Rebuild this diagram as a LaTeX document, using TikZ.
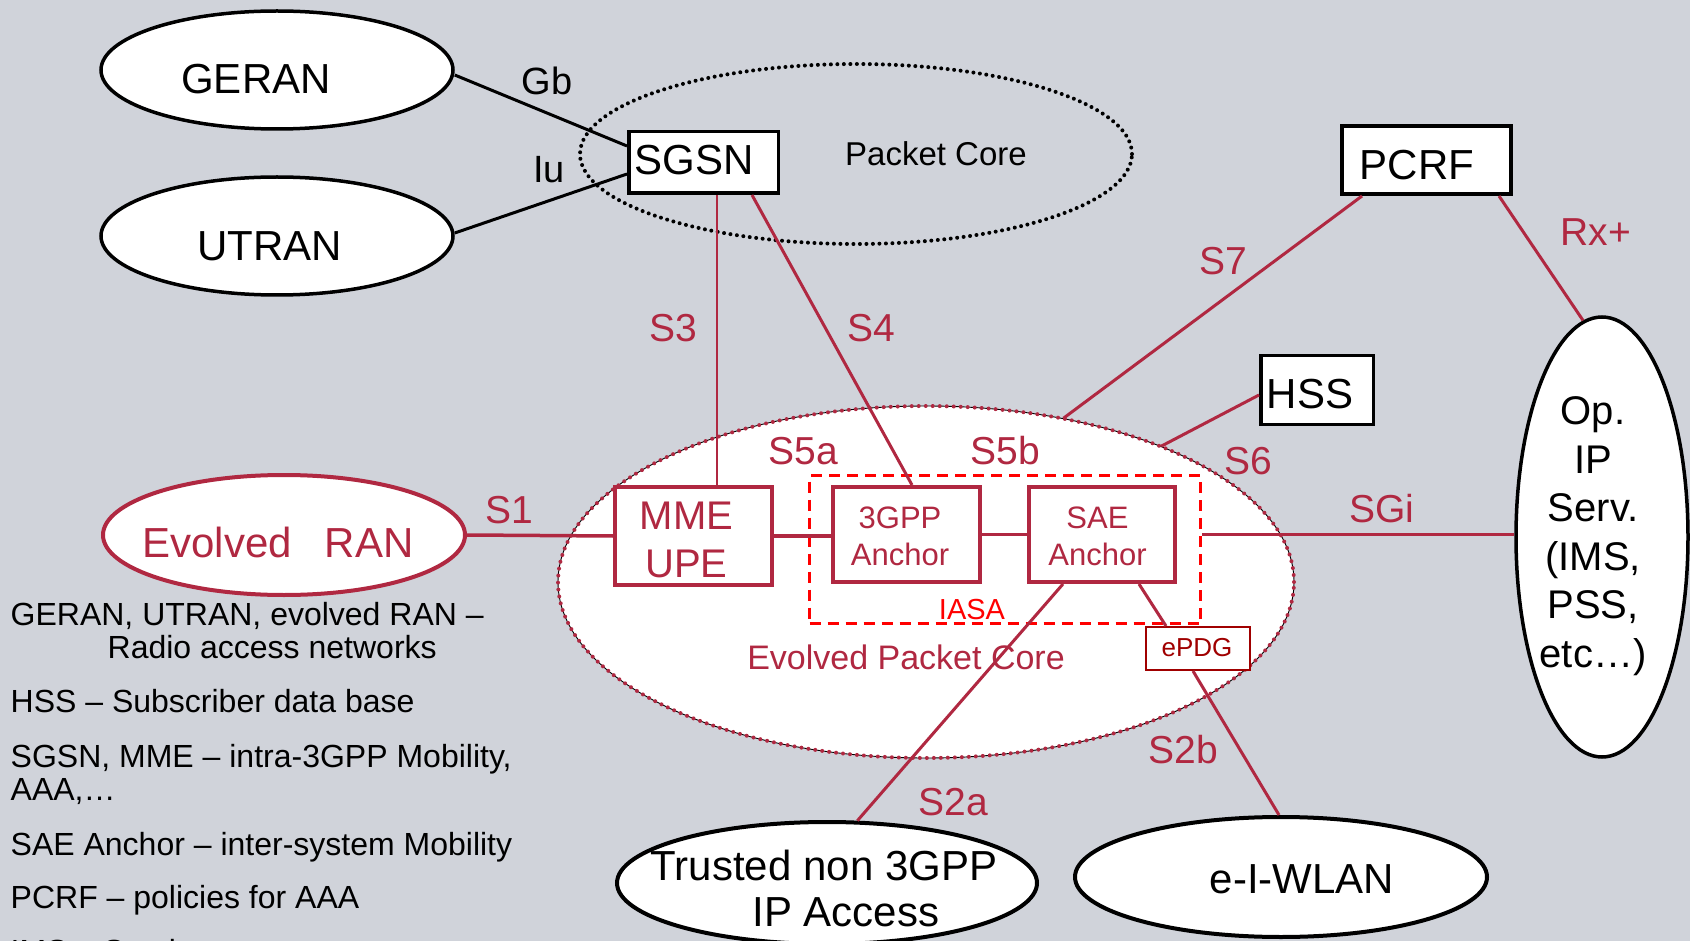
\documentclass[tikz,border=0pt]{standalone}
\usepackage{fontspec}
\setmainfont{Liberation Sans}
\usetikzlibrary{shapes.geometric,calc}
\definecolor{bg}{RGB}{208,211,218}
\definecolor{crim}{RGB}{176,40,65}
\definecolor{dred}{RGB}{160,0,0}
\definecolor{pured}{RGB}{255,0,0}
\begin{document}
\begin{tikzpicture}[x=1pt, y=-1pt,
  cloud/.style={ellipse, draw=black, fill=white, line width=3.5pt, inner sep=0pt},
  box/.style={rectangle, draw=black, fill=white, line width=3.5pt, inner sep=0pt},
  rbox/.style={box, draw=crim, line width=4pt},
  blk/.style={draw=black, line width=3pt},
  rline/.style={draw=crim, line width=3pt},
  txt/.style={inner sep=0pt, font=\fontsize{42}{48}\selectfont},
  lbl/.style={inner sep=0pt, text=crim, font=\fontsize{39}{44}\selectfont},
  ifc/.style={inner sep=0pt, font=\fontsize{38}{44}\selectfont},
  leg/.style={anchor=base west, inner sep=0pt, font=\fontsize{32}{38}\selectfont},
]
% canvas
\fill[bg] (0,0) rectangle (1690,941);
\useasboundingbox (0,0) rectangle (1690,941);
\clip (0,0) rectangle (1690,941);

% packet core region (dotted outline)
\node[ellipse, draw=black, line width=4pt, dash pattern=on 0pt off 6.5pt, line cap=round,
      minimum width=552pt, minimum height=180pt, inner sep=0pt] (pc) at (856,154) {};

% evolved packet core region
\node[ellipse, draw=black, fill=white, line width=0.9pt, inner sep=0pt,
      minimum width=736pt, minimum height=352pt,
      postaction={draw=crim, line width=4pt, dash pattern=on 0pt off 7pt, line cap=round}]
      (epc) at (926,582) {};

% access networks and service clouds
\node[cloud, minimum width=352pt, minimum height=118pt] (geran) at (277,70) {};
\node[cloud, minimum width=352pt, minimum height=118pt] (utran) at (277,236) {};
\node[cloud, draw=crim, line width=4pt, minimum width=362pt, minimum height=120pt] (eran) at (284,535) {};
\node[cloud, minimum width=172pt, minimum height=440pt] (op) at (1602,537) {};
\node[cloud, line width=4pt, minimum width=420pt, minimum height=122pt] (trusted) at (827,883) {};
\node[cloud, line width=4pt, minimum width=412pt, minimum height=120pt] (wlan) at (1281,877) {};

% IASA boundary
\node[rectangle, draw=pured, line width=3pt, dash pattern=on 11pt off 7pt, inner sep=0pt,
      minimum width=391pt, minimum height=148pt] (iasa) at (1005,549.5) {};

% boxes
\node[box, minimum width=149.5pt, minimum height=61.5pt] (sgsn) at (703.5,162.5) {};
\node[box, line width=4pt, minimum width=169pt, minimum height=68pt] (pcrf) at (1426.5,160) {};
\node[box, minimum width=112.5pt, minimum height=68.5pt] (hss) at (1317,390) {};
\node[rbox, minimum width=157pt, minimum height=98pt] (mme) at (693.5,536) {};
\node[rbox, minimum width=147pt, minimum height=95pt] (gpp) at (906.5,534.5) {};
\node[rbox, minimum width=146pt, minimum height=95pt] (sae) at (1102,534.5) {};

% interfaces
\draw[blk] ([yshift=-5pt]geran.east) -- ([yshift=16.5pt]sgsn.west);
\draw[blk] ([yshift=3pt]utran.east) -- ([yshift=-11.5pt]sgsn.west);
\draw[rline, line width=2.5pt] ([xshift=13.5pt]sgsn.south) -- ([xshift=23.5pt]mme.north);
\draw[rline] ([xshift=48.5pt]sgsn.south) -- ([xshift=5.5pt]gpp.north);
\draw[rline, line width=3.5pt] (eran.east) -- (mme.west);
\draw[rline, line width=3.5pt] (mme.east) -- (mme.east -| gpp.west);
\draw[rline, line width=3.5pt] (gpp.east) -- (gpp.east -| sae.west);
\draw[rline, line width=3.5pt] (sae.east -| iasa.east) -- (sae.east -| op.west);
\draw[rline] ([xshift=-64.5pt]pcrf.south) -- (epc.50.6);
\draw[rline] ([yshift=-5pt]hss.west) -- (epc.30.9);
\draw[rline] ([xshift=72.5pt]pcrf.south) -- (op.95);
\draw[rline] ([xshift=-39pt]sae.south) -- (trusted.64.5);

\node[rectangle, draw=dred, fill=white, line width=2pt, inner sep=0pt,
      minimum width=104pt, minimum height=43pt] (epdg) at (1198,648.5) {};
\draw[rline] ([xshift=37pt]sae.south) -- ([xshift=-32pt]epdg.north);
\draw[rline] ([xshift=-5pt]epdg.south) -- ([xshift=-2pt]wlan.north);

% element names
\node[txt] (geranT) at (256,79) {GERAN};
\node[txt] (utranT) at (270,246) {UTRAN};
\node[txt] (sgsnT) at (694,160) {SGSN};
\node[txt] (pcrfT) at (1417,165) {PCRF};
\node[txt] (hssT) at (1310,394) {HSS};
\node[txt, text=crim] (eranT) at (278,542) {Evolved\hspace{33pt}RAN};
\node[inner sep=0pt, text=crim, align=center, font=\fontsize{40}{48}\selectfont] (mmeT) at (686.5,540) {MME\\UPE};
\node[inner sep=0pt, text=crim, align=center, font=\fontsize{31}{37}\selectfont] (gppT) at (900,536) {3GPP\\Anchor};
\node[inner sep=0pt, text=crim, align=center, font=\fontsize{31}{37}\selectfont] (saeT) at (1097.5,536) {SAE\\Anchor};
\node[inner sep=0pt, text=pured, font=\fontsize{29}{34}\selectfont] (iasaT) at (972,610) {IASA};
\node[inner sep=0pt, text=dred, font=\fontsize{26}{30}\selectfont] (epdgT) at (1197,648) {ePDG};
\node[inner sep=0pt, text=crim, font=\fontsize{34}{40}\selectfont] (epcT) at (906,657) {Evolved Packet Core};
\node[inner sep=0pt, font=\fontsize{33}{40}\selectfont] (pcT) at (936,154) {Packet Core};
\node[inner sep=0pt, align=center, font=\fontsize{40}{48.5}\selectfont] (opT) at (1593,536) {Op.\\IP\\Serv.\\(IMS,\\PSS,\\etc…)};
\node[txt] (trustedA) at (824,865) {Trusted non 3GPP};
\node[txt] (trustedB) at (846,912) {IP Access};
\node[txt] (wlanT) at (1302,879) {e-I-WLAN};

% interface labels
\node[ifc] (gbT) at (547,81) {Gb};
\node[ifc] (iuT) at (549,170) {Iu};
\node[lbl] (s3T) at (673,328) {S3};
\node[lbl] (s4T) at (871,328) {S4};
\node[lbl] (s5aT) at (803,451) {S5a};
\node[lbl] (s5bT) at (1005,451) {S5b};
\node[lbl] (s6T) at (1248,461) {S6};
\node[lbl] (s7T) at (1223,261) {S7};
\node[lbl] (rxT) at (1596,232) {Rx+};
\node[lbl] (s1T) at (509,510) {S1};
\node[lbl] (sgiT) at (1382,509) {SGi};
\node[lbl] (s2aT) at (953,802) {S2a};
\node[lbl] (s2bT) at (1183,750) {S2b};

% legend (last line runs off the lower edge)
\node[leg] (lg1) at (10.5,625) {GERAN, UTRAN, evolved RAN –};
\node[leg] (lg2) at (107.5,658) {Radio access networks};
\node[leg] (lg3) at (10.5,712) {HSS – Subscriber data base};
\node[leg] (lg4) at (10.5,767) {SGSN, MME – intra-3GPP Mobility,};
\node[leg] (lg5) at (10.5,800) {AAA,…};
\node[leg] (lg6) at (10.5,855) {SAE Anchor – inter-system Mobility};
\node[leg] (lg7) at (10.5,908) {PCRF – policies for AAA};
\node[leg] (lg8) at (10.5,962) {IMS – Services};
\end{tikzpicture}
\end{document}
